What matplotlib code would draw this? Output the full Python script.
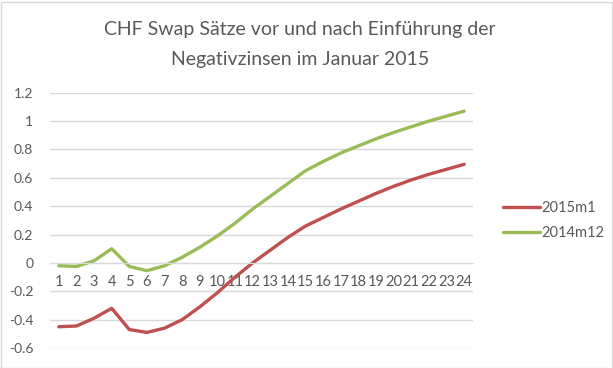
import matplotlib
matplotlib.use('Agg')
import matplotlib.pyplot as plt
from matplotlib.patches import Rectangle

laufzeit = list(range(1, 25))
s2015m1 = [-0.45, -0.445, -0.39, -0.32, -0.47, -0.49, -0.46, -0.40, -0.31, -0.21, -0.10, 0.00,
           0.09, 0.18, 0.26, 0.32, 0.38, 0.435, 0.49, 0.54, 0.585, 0.625, 0.66, 0.695]
s2014m12 = [-0.02, -0.025, 0.015, 0.10, -0.025, -0.055, -0.02, 0.04, 0.11, 0.19, 0.28, 0.38,
            0.47, 0.56, 0.65, 0.715, 0.775, 0.825, 0.875, 0.92, 0.96, 1.00, 1.035, 1.07]
yticks = [-0.6, -0.4, -0.2, 0, 0.2, 0.4, 0.6, 0.8, 1, 1.2]
ytick_labels = ['-0.6', '-0.4', '-0.2', '0', '0.2', '0.4', '0.6', '0.8', '1', '1.2']

txt = '#595959'
plt.rcParams['font.family'] = ['Lato', 'DejaVu Sans']

fig = plt.figure(figsize=(6.13, 3.68), dpi=100)
ax = fig.add_axes([50/613, 1 - 348/368, 423/613, (348 - 92.7)/368])

ax.plot(laufzeit, s2015m1, color='#C0504D', lw=2.4, label='2015m1', solid_capstyle='round')
ax.plot(laufzeit, s2014m12, color='#9BBB59', lw=2.4, label='2014m12', solid_capstyle='round')

ax.set_xlim(0.5, 24.5)
ax.set_ylim(-0.6, 1.2)
ax.set_yticks(yticks)
ax.set_yticklabels(ytick_labels)
ax.set_xticks(laufzeit)
ax.set_xticklabels([str(v) for v in laufzeit])
ax.grid(axis='y', color='#d9d9d9', lw=1)
ax.set_axisbelow(True)
for s in ['top', 'right', 'left']:
    ax.spines[s].set_visible(False)
ax.spines['bottom'].set_position(('data', 0))
ax.spines['bottom'].set_color('#d9d9d9')
ax.tick_params(length=0, colors=txt, labelsize=10)
ax.tick_params(axis='x', pad=9, labelsize=10.5)
ax.tick_params(axis='y', pad=12)

leg = ax.legend(loc='center left', bbox_to_anchor=(1.04, 0.5), frameon=False,
                fontsize=10.5, handlelength=2.5, handletextpad=0.15, labelspacing=0.75)
for t in leg.get_texts():
    t.set_color(txt)

fig.text(300/613, 1 - 30/368, 'CHF Swap Sätze vor und nach Einführung der',
         ha='center', va='center', fontsize=14, color=txt)
fig.text(300/613, 1 - 59/368, 'Negativzinsen im Januar 2015',
         ha='center', va='center', fontsize=14, color=txt)

fig.patches.append(Rectangle((0.5/613, 0.5/368), 611/613, 366/368, transform=fig.transFigure,
                             fill=False, edgecolor='#d9d9d9', lw=1))

fig.savefig('out.png', dpi=100)
